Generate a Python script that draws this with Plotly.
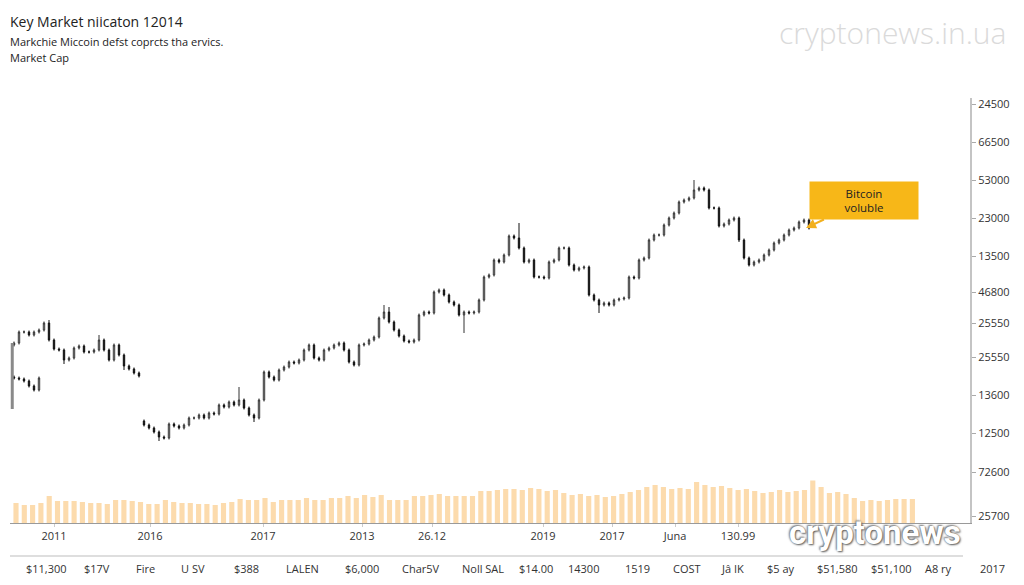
import plotly.graph_objects as go

# ---------------- data ----------------
# main price path, first segment (before the gap)
close_a = [180, 191, 191, 188, 191, 193, 200, 183, 174, 173, 163, 165, 175, 177, 171,
           171, 173, 183, 173, 163, 178, 168, 157, 154, 150, 147]
open_a0 = 178
# main price path, second segment (after the gap)
close_b = [98, 95, 91, 86, 85,
           99, 97, 95, 98, 105,
           105, 108, 105, 110, 109,
           118, 116, 121, 118, 123,
           115, 108, 105, 123, 151,
           146, 143, 153, 156, 161,
           160, 163, 173, 178, 165,
           163, 173, 175, 178, 180,
           173, 161, 158, 178, 179,
           183, 186, 205, 211, 201,
           193, 187, 182, 181, 183,
           208, 211, 210, 231, 233,
           228, 221, 218, 208, 211,
           210, 211, 223, 246, 248,
           263, 261, 268, 287, 285,
           275, 261, 263, 246, 246,
           245, 261, 263, 275, 275,
           258, 253, 255, 256, 228,
           223, 218, 220, 218, 223,
           224, 225, 246, 245, 263,
           265, 283, 288, 288, 298,
           305, 310, 321, 323, 325,
           333, 335, 333, 315, 315,
           297, 299, 303, 305, 283,
           265, 258, 261, 263, 268,
           273, 280, 283, 288, 293,
           295, 301, 303, 295]
open_b0 = 102
hi_spikes = {7: 203, 17: 188, 45: 136, 74: 218, 75: 216, 101: 300, 136: 343}
lo_spikes = {10: 159, 22: 153, 29: 82, 48: 101, 90: 190, 117: 210, 145: 281}
wick = 1.5

# short lower series at the far left
side_close = [145, 144, 142, 137, 133, 145]
side_open0 = 146
side_x = [0, 1, 2, 3, 4, 5]
# tall grey bar at the left edge
grey_bar = [114, 180]

volume = [20, 18, 18, 20, 27, 22, 22, 22, 21, 20, 20, 19, 23, 23, 22, 21, 19, 19, 23, 21,
          20, 20, 19, 19, 18, 20, 21, 24, 23, 23, 25, 21, 23, 23, 23, 25, 23, 23, 25, 25,
          27, 25, 28, 26, 28, 23, 23, 23, 27, 27, 28, 29, 27, 27, 27, 27, 32, 32,
          33, 34, 34, 33, 35, 34, 32, 33, 30, 28, 29, 27, 28, 26, 27, 29, 31, 33, 36, 38,
          36, 34, 35, 34, 41, 38, 36, 37, 35, 33, 34, 32, 30, 31, 33, 31,
          32, 33, 43, 36, 30, 31, 29, 25, 22, 23, 22, 23, 24, 24, 24]

price_tick_vals = [419, 381, 343, 305, 267, 231, 200, 166, 128, 90, 51, 7]
price_tick_text = ["24500", "66500", "53000", "23000", "13500", "46800",
                   "25550", "25550", "13600", "12500", "72600", "25700"]

date_labels = ["2011", "2016", "2017", "2013", "26.12", "2019", "2017", "Juna", "130.99"]
date_label_idx = [8, 27.2, 49.8, 69.6, 83.6, 105.8, 119.6, 132.2, 144.8]

bottom_labels = ["$11,300", "$17V", "Fire", "U SV", "$388", "LALEN", "$6,000", "Char5V",
                 "Noll SAL", "$14.00", "14300", "1519", "COST", "Jâ IK", "$5 ay",
                 "$51,580", "$51,100", "A8 ry", "2017"]
bottom_label_px = [46, 97, 145, 193, 246, 302, 362, 421, 483, 536, 583, 637, 687, 732,
                   781, 837, 891, 938, 992]

# ---------------- layout helpers ----------------
W, H = 1024, 585
ML, MR, MT, MB = 10, 54, 98, 62
PW, PH = W - ML - MR, H - MT - MB


def px2x(px):
    return (px - ML) / PW


def px2y(py):
    return (H - MB - py) / PH


def build(close, first_open, offset):
    o, h, l = [], [], []
    prev = first_open
    for j, c in enumerate(close):
        idx = offset + j
        o.append(prev)
        h.append(hi_spikes.get(idx, max(prev, c) + wick))
        l.append(lo_spikes.get(idx, min(prev, c) - wick))
        prev = c
    return o, h, l


fig = go.Figure()

candle_style = dict(
    increasing=dict(line=dict(color="#333333", width=1), fillcolor="#ffffff"),
    decreasing=dict(line=dict(color="#111111", width=1), fillcolor="#111111"),
    showlegend=False, hoverinfo="skip",
)

xa = list(range(len(close_a)))
oa, ha, la = build(close_a, open_a0, 0)
fig.add_trace(go.Candlestick(x=xa, open=oa, high=ha, low=la, close=close_a, **candle_style))

off_b = len(close_a)
xb = list(range(off_b, off_b + len(close_b)))
ob, hb, lb = build(close_b, open_b0, off_b)
fig.add_trace(go.Candlestick(x=xb, open=ob, high=hb, low=lb, close=close_b, **candle_style))

so = [side_open0] + side_close[:-1]
sh = [max(a, b) + wick for a, b in zip(so, side_close)]
sl = [min(a, b) - wick for a, b in zip(so, side_close)]
fig.add_trace(go.Candlestick(x=side_x, open=so, high=sh, low=sl, close=side_close, **candle_style))

fig.add_trace(go.Scatter(x=[-0.35, -0.35], y=grey_bar, mode="lines",
                         line=dict(color="#8a8a8a", width=3), showlegend=False, hoverinfo="skip"))

fig.add_trace(go.Bar(x=list(range(len(volume))), y=volume, xaxis="x2", yaxis="y2",
                     marker=dict(color="#FCDBAD", line=dict(width=0)), width=0.62,
                     showlegend=False, hoverinfo="skip"))

x_left = (ML - 14) / 5
x_right = (W - MR - 14) / 5

annotations = []
font_main = "Open Sans, Noto Sans, sans-serif"
annotations.append(dict(text="Key Market niicaton 12014", xref="paper", yref="paper",
                        x=px2x(8), y=px2y(21), xanchor="left", yanchor="middle", showarrow=False,
                        font=dict(size=14, color="#222222", family=font_main)))
annotations.append(dict(text="Markchie Miccoin defst coprcts tha ervics.", xref="paper", yref="paper",
                        x=px2x(8), y=px2y(42), xanchor="left", yanchor="middle", showarrow=False,
                        font=dict(size=11, color="#222222", family=font_main)))
annotations.append(dict(text="Market Cap", xref="paper", yref="paper",
                        x=px2x(8), y=px2y(57), xanchor="left", yanchor="middle", showarrow=False,
                        font=dict(size=11, color="#222222", family=font_main)))
annotations.append(dict(text="cryptonews.in.ua", xref="paper", yref="paper",
                        x=px2x(1008), y=px2y(32), xanchor="right", yanchor="middle", showarrow=False,
                        font=dict(size=30, color="#dadada", family="Open Sans, sans-serif", weight=300)))
annotations.append(dict(text="cryptonews", xref="paper", yref="paper",
                        x=px2x(875), y=px2y(532), xanchor="center", yanchor="middle", showarrow=False,
                        font=dict(size=33, color="#ffffff", family="Roboto, sans-serif", weight="bold",
                                  shadow="1px 1px 2px #555, -1px -1px 2px #777")))
annotations.append(dict(text="Bitcoin<br>voluble", xref="x", yref="y", x=158.4, y=295,
                        ax=58, ay=-27.5, showarrow=True, arrowhead=2, arrowsize=1, arrowwidth=2,
                        arrowcolor="#F2B01E", bgcolor="#F7B718", borderpad=0, width=108, height=37,
                        font=dict(size=11.5, color="#222222", family=font_main)))
for t, p in zip(bottom_labels, bottom_label_px):
    annotations.append(dict(text=t, xref="paper", yref="paper", x=px2x(p), y=px2y(568),
                            xanchor="center", yanchor="middle", showarrow=False,
                            font=dict(size=11, color="#333333", family=font_main)))

fig.update_layout(
    width=W, height=H,
    margin=dict(l=ML, r=MR, t=MT, b=MB),
    paper_bgcolor="white", plot_bgcolor="white",
    showlegend=False,
    boxgap=0.6,
    xaxis=dict(range=[x_left, x_right], rangeslider=dict(visible=False),
               showgrid=False, zeroline=False, showline=True, linecolor="#9a9a9a", linewidth=1,
               tickmode="array", tickvals=date_label_idx, ticktext=date_labels,
               ticks="outside", ticklen=3, tickcolor="#cccccc",
               tickfont=dict(size=11, color="#333333", family=font_main)),
    yaxis=dict(range=[0, PH], side="right", showgrid=False, zeroline=False,
               showline=True, linecolor="#c4c4c4", linewidth=2,
               tickmode="array", tickvals=price_tick_vals, ticktext=price_tick_text,
               ticks="outside", ticklen=4, tickcolor="#aaaaaa",
               tickfont=dict(size=11, color="#333333", family=font_main)),
    xaxis2=dict(overlaying="x", anchor="y2", range=[(ML - 16) / 8.3, (W - MR - 16) / 8.3],
                visible=False),
    yaxis2=dict(domain=[0, 0.1], anchor="x2", range=[0, PH * 0.1], visible=False),
    annotations=annotations,
    shapes=[dict(type="line", xref="paper", yref="paper", x0=0, x1=px2x(963),
                 y0=px2y(556), y1=px2y(556), line=dict(color="#bdbdbd", width=1))],
)

fig.write_html("out.html")
